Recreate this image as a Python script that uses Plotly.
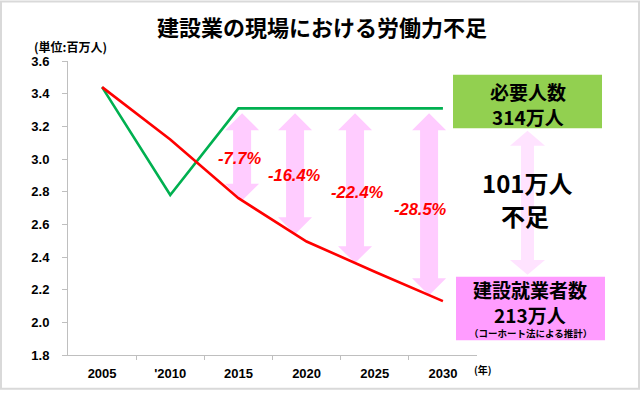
import numpy as np
import plotly.graph_objects as go

# ---------------- data ----------------
years = ["2005", "'2010", "2015", "2020", "2025", "2030"]
required = [3.44, 2.78, 3.31, 3.31, 3.31, 3.31]      # 必要人数 (百万人)
workers = [3.44, 3.12, 2.76, 2.495, 2.31, 2.13]       # 建設就業者数 (百万人)
gap_labels = ["-7.7%", "-16.4%", "-22.4%", "-28.5%"]
y_ticks = [1.8, 2.0, 2.2, 2.4, 2.6, 2.8, 3.0, 3.2, 3.4, 3.6]

# ---------------- layout geometry ----------------
W, H = 640, 393
L, R, T, B = 68, 477, 61, 358          # plot area in pixels
XMIN, XMAX = -0.5, len(years) - 0.5
YMIN, YMAX = 1.8, 3.6
DX = (XMAX - XMIN) / (R - L)           # data units per pixel
DY = (YMAX - YMIN) / (B - T)

FONT = "Liberation Sans, Arial, Noto Sans CJK JP"
JP = "Noto Sans CJK JP, Liberation Sans"
GRAY = "#bfbfbf"
ARROW = "#ffccff"


def px_paper(px, py):
    return (px - L) / (R - L), (B - py) / (B - T)


def varrow_path(xc, ytop, ybot, shaft, head, headlen, ux, uy):
    hw, sw, hl = head / 2 * ux, shaft / 2 * ux, headlen * uy
    pts = [(xc, ytop), (xc + hw, ytop - hl), (xc + sw, ytop - hl), (xc + sw, ybot + hl),
           (xc + hw, ybot + hl), (xc, ybot), (xc - hw, ybot + hl), (xc - sw, ybot + hl),
           (xc - sw, ytop - hl), (xc - hw, ytop - hl)]
    return "M " + " L ".join(f"{a:.5f},{b:.5f}" for a, b in pts) + " Z"


idx = np.arange(len(years))
fig = go.Figure()
fig.add_trace(go.Scatter(x=idx, y=required, mode="lines",
                         line=dict(color="#00b050", width=2.6), hoverinfo="skip"))
fig.add_trace(go.Scatter(x=idx, y=workers, mode="lines",
                         line=dict(color="#ff0000", width=2.6), hoverinfo="skip"))

shapes = []
# gap arrows between the two lines (2015 .. 2030)
arrow_offsets = [0.054, -0.169, -0.289, -0.203]
for k, off in enumerate(arrow_offsets):
    xc = idx[2 + k] + off
    ytop = np.interp(xc, idx, required) - 5 * DY
    ybot = np.interp(xc, idx, workers)
    shapes.append(dict(type="path", xref="x", yref="y", layer="below",
                       path=varrow_path(xc, ytop, ybot, 18, 34, 17, DX, DY),
                       fillcolor=ARROW, line=dict(width=0)))

# right-hand double arrow between boxes (paper coords)
ux, uy = 1 / (R - L), 1 / (B - T)
cx, ty = px_paper(527.5, 131.5)
_, by = px_paper(527.5, 277)
shapes.append(dict(type="path", xref="paper", yref="paper", layer="below",
                   path=varrow_path(cx, ty, by, 13, 35, 15, ux, uy),
                   fillcolor="#ffe3ff", line=dict(width=0)))

# boxes
x0, y0 = px_paper(453, 75)
x1, y1 = px_paper(602, 129)
shapes.append(dict(type="rect", xref="paper", yref="paper", x0=x0, x1=x1, y0=y1, y1=y0,
                   fillcolor="#92d050", line=dict(width=0)))
x0, y0 = px_paper(456, 279)
x1, y1 = px_paper(605, 343)
shapes.append(dict(type="rect", xref="paper", yref="paper", x0=x0, x1=x1, y0=y1, y1=y0,
                   fillcolor="#ff9cff", line=dict(width=0)))
# outer border
x0, y0 = px_paper(1, 1)
x1, y1 = px_paper(639, 392)
shapes.append(dict(type="rect", xref="paper", yref="paper", x0=x0, x1=x1, y0=y1, y1=y0,
                   fillcolor="rgba(0,0,0,0)", line=dict(color="#d9d9d9", width=2)))

annotations = []


def note(text, px, py, size, color="black", family=JP, weight="bold", style="normal"):
    x, y = px_paper(px, py)
    annotations.append(dict(text=text, x=x, y=y, xref="paper", yref="paper",
                            xanchor="center", yanchor="middle", showarrow=False,
                            font=dict(size=size, color=color, family=family,
                                      weight=weight, style=style)))


note("建設業の現場における労働力不足", 322, 26, 22)
note("(単位:百万人)", 70, 46, 12)
note("必要人数", 528, 92, 19)
note("314万人", 528, 117, 19)
note("建設就業者数", 530, 292, 19)
note("213万人", 530, 317, 19)
note("（コーホート法による推計）", 530, 336, 9.5)
note("101万人", 527, 184, 24)
note("不足", 525, 217, 24)
note("(年)", 483, 373, 10)

gap_pos = [(239, 159), (294, 176.5), (357.5, 193.5), (420.5, 211)]
for t, (px, py) in zip(gap_labels, gap_pos):
    note(t, px, py, 16.5, color="#ff0000", family=FONT, style="italic")

fig.update_layout(
    width=W, height=H,
    margin=dict(l=L, r=W - R, t=T, b=H - B, pad=0),
    paper_bgcolor="white", plot_bgcolor="white",
    showlegend=False,
    shapes=shapes, annotations=annotations,
    xaxis=dict(range=[XMIN, XMAX], tickmode="array", tickvals=list(idx), ticktext=years,
               showgrid=False, zeroline=False, showline=True, linecolor=GRAY, linewidth=1,
               ticks="outside", ticklen=0, ticklabelstandoff=6,
               tickfont=dict(family=FONT, size=13, color="black", weight="bold"),
               minor=dict(tickmode="array", tickvals=[i + 0.5 for i in idx[:-1]],
                          ticks="outside", ticklen=4, tickcolor=GRAY, tickwidth=1,
                          showgrid=False)),
    yaxis=dict(range=[YMIN, YMAX], tickmode="array", tickvals=y_ticks,
               ticktext=[f"{v:.1f}" for v in y_ticks],
               showgrid=False, zeroline=False, showline=True, linecolor=GRAY, linewidth=1,
               ticks="outside", ticklen=5, tickcolor=GRAY, ticklabelstandoff=10,
               tickfont=dict(family=FONT, size=13, color="black", weight="bold")),
)

fig.write_html("out.html", config={"displayModeBar": False},
               post_script="document.body.style.margin='0px';"
               "document.body.style.overflow='hidden';")
